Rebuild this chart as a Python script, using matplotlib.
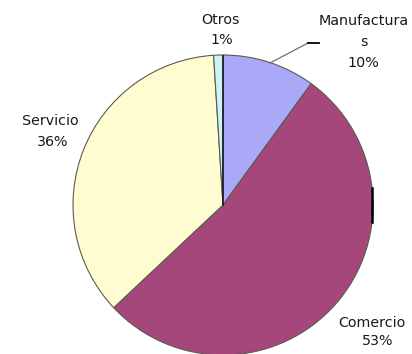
import matplotlib
matplotlib.use("Agg")
import matplotlib.pyplot as plt

categories = ["Manufacturas", "Comercio", "Servicio", "Otros"]
shares = [10, 53, 36, 1]
colors = ["#a9a9f7", "#a5477b", "#fffcd2", "#cdf4f4"]

W, H = 412, 354
fig = plt.figure(figsize=(W / 100, H / 100), dpi=100)
fig.patch.set_facecolor("white")

cx, cy, r = 223, 205, 150
ax = fig.add_axes([(cx - r) / W, (H - cy - r) / H, 2 * r / W, 2 * r / H])
ax.axis("off")

wedges, _ = ax.pie(shares, colors=colors, startangle=90, counterclock=False,
                   radius=1, center=(0, 0),
                   wedgeprops=dict(edgecolor="#5a5a50", linewidth=0.8))
ax.set_aspect("auto")
ax.set_xlim(-1, 1)
ax.set_ylim(-1, 1)


def px(x, y):
    # pixel position (top-left origin) to axes data coordinates
    return ((x - cx) / r, (cy - y) / r)


font = dict(family="DejaVu Sans", fontsize=10.3, color="#1a1a1a",
            ha="center", va="center", clip_on=False)

ax.text(*px(221, 20), "Otros", **font)
ax.text(*px(222, 40), f"{shares[3]}%", **font)

ax.text(*px(364, 21), "Manufactura", **font)
ax.text(*px(364, 42), "s", **font)
ax.text(*px(363, 63), f"{shares[0]}%", **font)

ax.text(*px(50, 121), "Servicio", **font)
ax.text(*px(53, 142), f"{shares[2]}%", **font)

ax.text(*px(372, 323), "Comercio", **font)
ax.text(*px(378, 341), f"{shares[1]}%", **font)

# leader line for Manufacturas
x0, y0 = px(270, 63)
x1, y1 = px(308, 43)
x2, _ = px(319, 43)
ax.plot([x0, x1], [y0, y1], color="#707070", lw=0.9, clip_on=False)
ax.plot([x1, x2], [y1, y1], color="black", lw=1.3, clip_on=False)

# dark separator on the 12 o'clock radius
ax.plot([0, 0], [0, 1], color="#1a1a2a", lw=1.2)
# dark tick on the right rim
ax.plot([px(372, 0)[0]] * 2, [px(0, 188)[1], px(0, 222)[1]],
        color="black", lw=1.8, clip_on=False)

fig.savefig("out.png", dpi=100, facecolor="white")
